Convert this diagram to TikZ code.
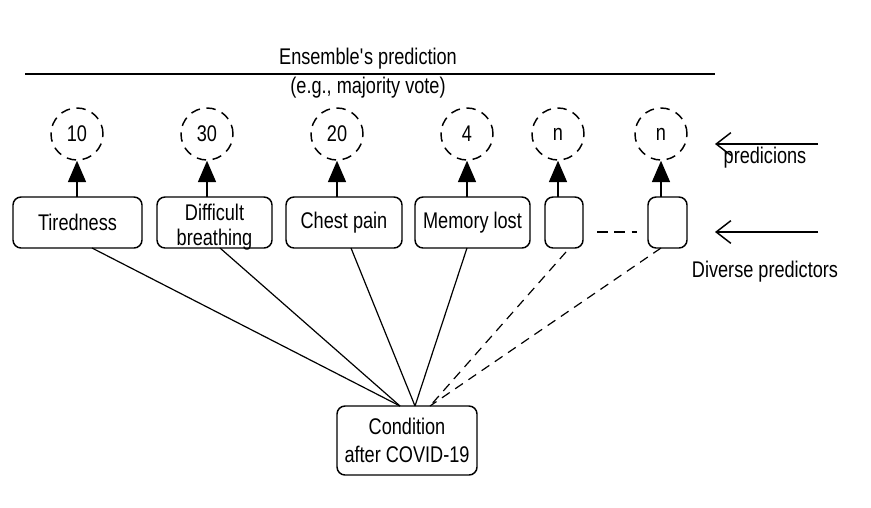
\documentclass[tikz,border=0pt]{standalone}
\usepackage{fontspec}
\setmainfont[FakeStretch=0.8]{Liberation Sans}
\usetikzlibrary{arrows.meta,calc}

\tikzset{
  predictor/.style={draw, rounded corners=6pt, line width=1.1pt, inner sep=0pt, outer sep=0pt,
    minimum height=38.25pt, align=center},
  vote/.style={draw, circle, dashed, dash pattern=on 7pt off 5pt, line width=1.1pt,
    minimum size=39pt, inner sep=0pt},
  uparrow/.style={line width=1.1pt, -{Triangle[length=16pt, width=13.5pt]}},
  feed/.style={line width=0.9pt},
  feeddash/.style={line width=0.9pt, dashed, dash pattern=on 7pt off 5pt},
  pointer/.style={line width=1.1pt, -{Straight Barb[length=11pt, width=17pt, line width=1.1pt]}},
  lbl/.style={inner sep=0pt},
}

\begin{document}
\begin{tikzpicture}[x=0.75pt, y=-0.75pt, font=\fontsize{17pt}{19pt}\selectfont]
  \useasboundingbox (0,0) rectangle (871,507);

  % combined output of the ensemble
  \coordinate (rl) at (25,74);
  \coordinate (rr) at (715,74);
  \draw[line width=1.1pt] (rl) -- (rr);
  \node[lbl] (ens) at (368,59) {Ensemble\textquotesingle s prediction};
  \node[lbl] (vote) at (368,88) {(e.g., majority vote)};

  % individual predictors
  \node[predictor, minimum width=96.75pt] (t1) at (77.5,222.5) {Tiredness};
  \node[predictor, minimum width=86.25pt] (t2) at (214.5,222.5) {};
  \node[lbl, align=center, font=\fontsize{17pt}{19pt}\selectfont] (t2txt) at (214.5,227) {Difficult\\breathing};
  \node[predictor, minimum width=87pt] (t3) at (344,222.5) {Chest pain};
  \node[predictor, minimum width=86.25pt] (t4) at (472.5,222.5) {Memory lost};
  \node[predictor, minimum width=28.5pt] (s1) at (564,222.5) {};
  \node[predictor, minimum width=29.25pt] (s2) at (667.5,222.5) {};

  % predictions of each predictor
  \node[vote] (c1) at (77,134) {10};
  \node[vote] (c2) at (207,134) {30};
  \node[vote] (c3) at (337,134) {20};
  \node[vote] (c4) at (467,134) {4};
  \node[vote] (c5) at (558,134) {n};
  \node[vote] (c6) at (661,134) {n};

  \draw[uparrow] (t1.north -| c1) -- (c1.south);
  \draw[uparrow] (t2.north -| c2) -- (c2.south);
  \draw[uparrow] (t3.north -| c3) -- (c3.south);
  \draw[uparrow] (t4.north -| c4) -- (c4.south);
  \draw[uparrow] (s1.north -| c5) -- (c5.south);
  \draw[uparrow] (s2.north -| c6) -- (c6.south);

  % ellipsis between the unnamed predictors
  \coordinate (g1) at (597,232);
  \coordinate (g2) at (637,232);
  \draw[line width=1.1pt, dashed, dash pattern=on 8pt off 5pt] (g1) -- (g2);

  % the input condition
  \node[predictor, minimum width=105pt, minimum height=51.75pt, font=\fontsize{17pt}{21pt}\selectfont] (cond) at (407,440.5) {Condition\\after COVID-19};

  \draw[feed] ($(t1.south)+(14.5,0)$) -- ($(cond.north)+(-7,0)$);
  \draw[feed] ($(t2.south)+(5.5,0)$) -- ($(cond.north)+(-7,0)$);
  \draw[feed] ($(t3.south)+(7,0)$) -- ($(cond.north)+(8,0)$);
  \draw[feed] ($(t4.south)+(-5.5,0)$) -- ($(cond.north)+(8,0)$);
  \draw[feeddash] ($(s1.south)+(2,4)$) -- ($(cond.north)+(23,0)$);
  \draw[feeddash] ($(s2.south)+(-6.5,0)$) -- ($(cond.north)+(23,0)$);

  % side annotations
  \coordinate (p1) at (818,144);
  \coordinate (p2) at (715,144);
  \draw[pointer] (p1) -- (p2);
  \node[lbl] (pred) at (765,158) {predicions};

  \coordinate (q1) at (818,232);
  \coordinate (q2) at (715,232);
  \draw[pointer] (q1) -- (q2);
  \node[lbl] (div) at (765,272) {Diverse predictors};
\end{tikzpicture}
\end{document}
